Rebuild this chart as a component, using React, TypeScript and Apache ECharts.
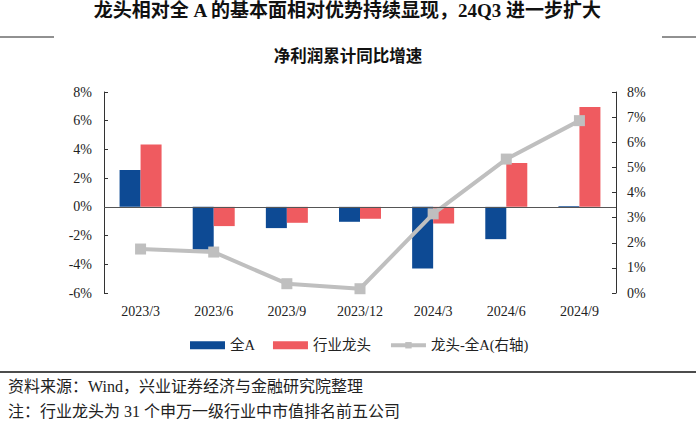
import React, { useEffect, useRef } from "react";
import * as echarts from "echarts";

const categories = ["2023/3", "2023/6", "2023/9", "2023/12", "2024/3", "2024/6", "2024/9"];
const allA = [2.56, -2.97, -1.48, -1.04, -4.29, -2.25, 0.05];
const leaders = [4.35, -1.34, -1.11, -0.83, -1.16, 3.06, 6.96];
const spread = [1.75, 1.63, 0.37, 0.17, 3.15, 5.33, 6.86];
const seriesNames = ["全A", "行业龙头", "龙头-全A(右轴)"];

const titleText = "龙头相对全 A 的基本面相对优势持续显现，24Q3 进一步扩大";
const subtitleText = "净利润累计同比增速";
const sourceText = "资料来源：Wind，兴业证券经济与金融研究院整理";
const noteText = "注：行业龙头为 31 个申万一级行业中市值排名前五公司";

const SERIF = '"Liberation Serif", "Times New Roman", "Noto Sans CJK SC", serif';
const BLUE = "#0d4a94";
const RED = "#ef5b60";
const GREY = "#bfbfbf";

export default function App() {
  const ref = useRef<HTMLDivElement>(null);
  useEffect(() => {
    if (!ref.current) return;
    const chart = echarts.init(ref.current, undefined, { renderer: "svg" });
    chart.setOption({
      animation: false,
      backgroundColor: "#ffffff",
      textStyle: { fontFamily: SERIF },
      grid: { left: 104, right: 80, top: 92, bottom: 133, containLabel: false },
      legend: {
        top: 338,
        left: 190,
        padding: 0,
        itemGap: 18,
        textStyle: { fontFamily: SERIF, fontSize: 14.5, color: "#222" },
        data: [
          { name: seriesNames[0], icon: "rect", itemStyle: { color: BLUE } },
          { name: seriesNames[1], icon: "rect", itemStyle: { color: RED } },
          { name: seriesNames[2], lineStyle: { width: 4, color: GREY }, itemStyle: { color: GREY } },
        ],
        itemWidth: 35,
        itemHeight: 8,
      },
      xAxis: {
        type: "category",
        data: categories,
        axisLine: { show: false, onZero: false },
        axisTick: { show: false },
        axisLabel: { fontFamily: SERIF, fontSize: 14, color: "#222", margin: 11 },
      },
      yAxis: [
        {
          type: "value",
          min: -6,
          max: 8,
          interval: 2,
          axisLine: { show: true, lineStyle: { color: "#333" } },
          axisTick: { show: true, inside: true, length: 4, lineStyle: { color: "#333" } },
          splitLine: { show: false },
          axisLabel: { formatter: "{value}%", fontFamily: SERIF, fontSize: 14, color: "#222", margin: 12 },
        },
        {
          type: "value",
          min: 0,
          max: 8,
          interval: 1,
          axisLine: { show: true, lineStyle: { color: "#333" } },
          axisTick: { show: true, inside: true, length: 4, lineStyle: { color: "#333" } },
          splitLine: { show: false },
          axisLabel: { formatter: "{value}%", fontFamily: SERIF, fontSize: 14, color: "#222", margin: 11 },
        },
      ],
      series: [
        {
          name: seriesNames[0],
          type: "bar",
          data: allA,
          barWidth: 21,
          barGap: "0%",
          itemStyle: { color: BLUE },
          markLine: {
            silent: true,
            symbol: ["none", "none"],
            label: { show: false },
            lineStyle: { color: "#555", width: 1, type: "solid" },
            data: [{ yAxis: 0 }],
          },
        },
        {
          name: seriesNames[1],
          type: "bar",
          data: leaders,
          barWidth: 21,
          barGap: "0%",
          itemStyle: { color: RED },
        },
        {
          name: seriesNames[2],
          type: "line",
          yAxisIndex: 1,
          data: spread,
          symbol: "rect",
          symbolSize: 11,
          lineStyle: { color: GREY, width: 4 },
          itemStyle: { color: GREY },
        },
      ],
      graphic: [
        {
          type: "text",
          left: "center",
          top: 1,
          style: { text: titleText, fontFamily: SERIF, fontWeight: "bold", fontSize: 19, fill: "#111" },
        },
        { type: "line", shape: { x1: 0, y1: 37, x2: 54, y2: 37 }, style: { stroke: "#222", lineWidth: 1 } },
        { type: "line", shape: { x1: 662, y1: 37, x2: 696, y2: 37 }, style: { stroke: "#222", lineWidth: 1 } },
        {
          type: "text",
          left: "center",
          top: 48,
          style: { text: subtitleText, fontFamily: SERIF, fontWeight: "bold", fontSize: 16.5, fill: "#111" },
        },
        { type: "line", shape: { x1: 0, y1: 372, x2: 696, y2: 372 }, style: { stroke: "#111", lineWidth: 1.5 } },
        {
          type: "text",
          left: 8,
          top: 378,
          style: { text: sourceText, fontFamily: SERIF, fontSize: 16, fill: "#222" },
        },
        {
          type: "text",
          left: 8,
          top: 403,
          style: { text: noteText, fontFamily: SERIF, fontSize: 16, fill: "#222" },
        },
      ],
    });
    return () => chart.dispose();
  }, []);
  return (
    <div
      ref={ref}
      style={{ position: "absolute", left: 0, top: 0, width: 696, height: 426, background: "#fff" }}
    />
  );
}
